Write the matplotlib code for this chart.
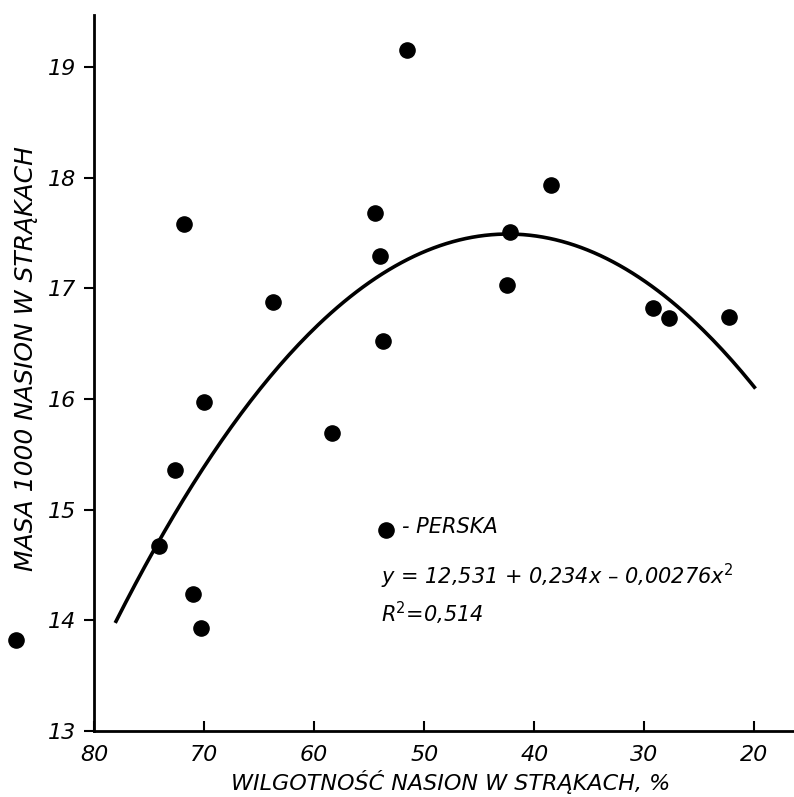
#!/usr/bin/env python3
# plot.py

import numpy as np
import matplotlib.pyplot as plt

# seed moisture in pods (%) and mass of 1000 seeds, cultivar "Perska"
moisture = [87.1, 74.1, 72.6, 71.8, 71.0, 70.3, 70.0, 63.7, 58.4, 54.5,
            54.0, 53.7, 51.6, 42.5, 42.2, 38.5, 29.2, 27.8, 22.3]
mass = [13.82, 14.67, 15.36, 17.58, 14.24, 13.93, 15.97, 16.88, 15.69, 17.68,
        17.29, 16.52, 19.15, 17.03, 17.51, 17.93, 16.82, 16.73, 16.74]

# fitted quadratic: y = b0 + b1*x + b2*x^2
b0, b1, b2 = 12.531, 0.234, -0.00276
fit_from, fit_to = 78, 20

x_ticks = [80, 70, 60, 50, 40, 30, 20]
y_ticks = [13, 14, 15, 16, 17, 18, 19]

font = {"family": "DejaVu Sans", "style": "italic"}


def main():
    fig = plt.figure(figsize=(7.94, 7.97), dpi=100)
    ax = fig.add_axes([94 / 794, 66 / 797, 700 / 794, 716 / 797])

    ax.set_xlim(80, 16.4)
    ax.set_ylim(13, 19.47)

    for side in ["top", "right"]:
        ax.spines[side].set_visible(False)
    for side in ["left", "bottom"]:
        ax.spines[side].set_linewidth(2.0)
        ax.spines[side].set_color("black")

    ax.set_xticks(x_ticks)
    ax.set_yticks(y_ticks)
    ax.set_xticklabels([str(v) for v in x_ticks], fontsize=16, **font)
    ax.set_yticklabels([str(v) for v in y_ticks], fontsize=16, **font)
    ax.tick_params(axis="x", direction="in", length=7, width=1.5, pad=10)
    ax.tick_params(axis="y", direction="out", length=7, width=1.5, pad=6)

    # regression curve
    xs = np.linspace(fit_from, fit_to, 200)
    ax.plot(xs, b0 + b1 * xs + b2 * xs ** 2, color="black", linewidth=2.6)

    # observations
    ax.scatter(moisture, mass, s=120, color="black", zorder=3, clip_on=False)

    # legend and equation
    ax.scatter([53.5], [14.82], s=120, color="black")
    ax.text(52.0, 14.84, "- PERSKA", fontsize=15, va="center", **font)
    ax.text(53.9, 14.40, "y = 12,531 + 0,234x \u2013 0,00276x$^2$",
            fontsize=15, va="center", **font)
    ax.text(53.9, 14.06, "R$^2$=0,514", fontsize=15, va="center", **font)

    ax.set_xlabel("WILGOTNOŚĆ NASION W STRĄKACH, %", fontsize=16, **font)
    ax.xaxis.set_label_coords(0.51, -0.054)
    ax.set_ylabel("MASA 1000 NASION W STRĄKACH", fontsize=18, **font)
    ax.yaxis.set_label_coords(-0.08, 0.52)

    fig.savefig("out.png", dpi=100)


if __name__ == "__main__":
    main()
